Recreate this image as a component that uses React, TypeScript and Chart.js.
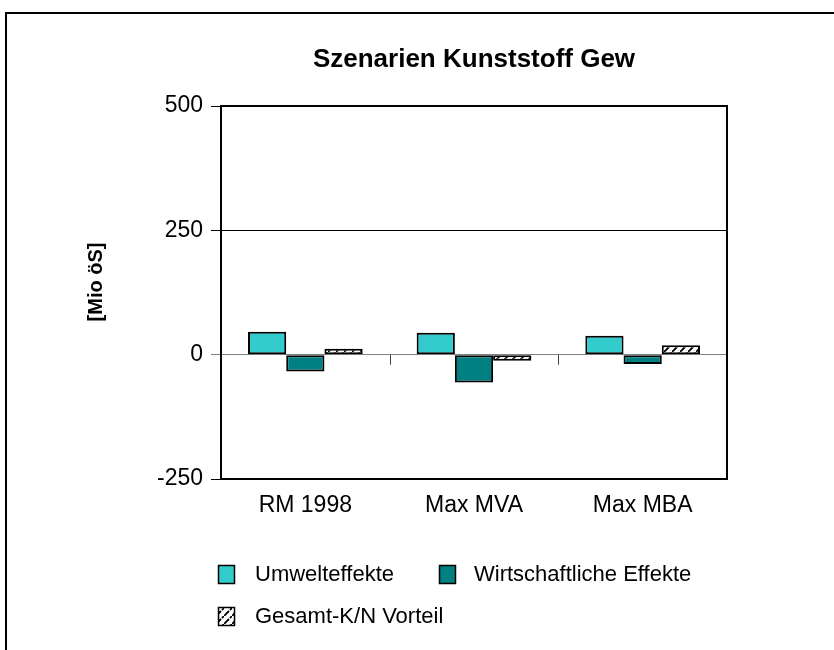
import React, { useEffect, useRef } from "react";
import { Chart, registerables } from "chart.js";

Chart.register(...registerables);

const chartTitle = "Szenarien Kunststoff Gew";
const yAxisTitle = "[Mio öS]";
const categories = ["RM 1998", "Max MVA", "Max MBA"];
const seriesNames = ["Umwelteffekte", "Wirtschaftliche Effekte", "Gesamt-K/N Vorteil"];
const umweltValues = [46, 44, 38];
const wirtschaftValues = [-34, -56, -19];
const gesamtValues = [12, -12, 19];
const yMin = -250;
const yMax = 500;
const yStep = 250;

const FONT = "'Liberation Sans', Arial, sans-serif";
const CYAN = "#33CCCC";
const TEAL = "#008080";

function makeHatch(): CanvasPattern | string {
  const c = document.createElement("canvas");
  c.width = 8;
  c.height = 8;
  const g = c.getContext("2d");
  if (!g) return "#ffffff";
  g.fillStyle = "#ffffff";
  g.fillRect(0, 0, 8, 8);
  g.strokeStyle = "#000000";
  g.lineWidth = 1.8;
  g.beginPath();
  g.moveTo(0, 8);
  g.lineTo(5, 3);
  g.moveTo(6, 2);
  g.lineTo(8, 0);
  g.stroke();
  const p = g.createPattern(c, "repeat");
  return p || "#ffffff";
}

export default function App() {
  const ref = useRef<HTMLCanvasElement | null>(null);

  useEffect(() => {
    document.body.style.margin = "0";
    const canvas = ref.current;
    if (!canvas) return;
    const hatch = makeHatch();

    const decor = {
      id: "decor",
      afterDraw(chart: any) {
        const ctx = chart.ctx as CanvasRenderingContext2D;
        const a = chart.chartArea;
        ctx.save();
        // outer frame
        ctx.strokeStyle = "#000";
        ctx.lineWidth = 2;
        ctx.beginPath();
        ctx.moveTo(6, 660);
        ctx.lineTo(6, 13);
        ctx.lineTo(840, 13);
        ctx.stroke();
        // plot border
        ctx.lineWidth = 2;
        ctx.strokeRect(a.left, a.top, a.right - a.left, a.bottom - a.top);
        // category ticks on zero line
        const y0 = chart.scales.y.getPixelForValue(0);
        ctx.strokeStyle = "#404040";
        ctx.lineWidth = 1;
        const n = categories.length;
        for (let i = 1; i < n; i++) {
          const x = Math.round(a.left + (i * (a.right - a.left)) / n) + 0.5;
          ctx.beginPath();
          ctx.moveTo(x, y0);
          ctx.lineTo(x, y0 + 10);
          ctx.stroke();
        }
        // title
        ctx.fillStyle = "#000";
        ctx.font = `bold 26px ${FONT}`;
        ctx.textAlign = "center";
        ctx.textBaseline = "middle";
        ctx.fillText(chartTitle, (a.left + a.right) / 2, 60);
        // y axis title
        ctx.save();
        ctx.translate(96, 282);
        ctx.rotate(-Math.PI / 2);
        ctx.font = `bold 20px ${FONT}`;
        ctx.fillText(yAxisTitle, 0, 0);
        ctx.restore();
        // legend
        const items = [
          { x: 218, y: 565, fill: CYAN as any, tx: 255 },
          { x: 439, y: 565, fill: TEAL as any, tx: 474 },
          { x: 218, y: 607, fill: hatch as any, tx: 255 },
        ];
        ctx.font = `22px ${FONT}`;
        ctx.textAlign = "left";
        ctx.textBaseline = "middle";
        items.forEach((it, i) => {
          ctx.fillStyle = it.fill;
          ctx.fillRect(it.x, it.y, 16, 18);
          ctx.strokeStyle = "#000";
          ctx.lineWidth = 1.5;
          ctx.strokeRect(it.x + 0.5, it.y + 0.5, 16, 18);
          ctx.fillStyle = "#000";
          ctx.fillText(seriesNames[i], it.tx, it.y + 10);
        });
        ctx.restore();
      },
    };

    const chart = new Chart(canvas, {
      type: "bar",
      data: {
        labels: categories,
        datasets: [
          { label: seriesNames[0], data: umweltValues, backgroundColor: CYAN },
          { label: seriesNames[1], data: wirtschaftValues, backgroundColor: TEAL },
          { label: seriesNames[2], data: gesamtValues, backgroundColor: hatch as any },
        ].map((d) => ({
          ...d,
          borderColor: "#000",
          borderWidth: 2,
          borderSkipped: false,
          barPercentage: 1,
          categoryPercentage: 0.68,
        })),
      },
      options: {
        responsive: false,
        animation: false,
        layout: { padding: { left: 0, right: 107, top: 106, bottom: 131 } },
        plugins: {
          legend: { display: false },
          title: { display: false },
          tooltip: { enabled: false },
        },
        scales: {
          x: {
            grid: { display: false },
            border: { display: false },
            ticks: { color: "#000", font: { family: FONT, size: 23 }, padding: 5 },
            afterFit: (s: any) => {
              s.height = 40;
            },
          },
          y: {
            min: yMin,
            max: yMax,
            ticks: {
              stepSize: yStep,
              color: "#000",
              font: { family: FONT, size: 23 },
              padding: 8,
            },
            grid: {
              color: (c: any) =>
                c.tick && c.tick.value === 250
                  ? "#000"
                  : c.tick && c.tick.value === 0
                  ? "#808080"
                  : "rgba(0,0,0,0)",
              tickColor: (c: any) => (c.tick && c.tick.value === 0 ? "#808080" : "#000"),
              tickLength: 10,
              lineWidth: 1,
            },
            border: { display: false },
            afterFit: (s: any) => {
              s.width = 221;
            },
          },
        },
      },
      plugins: [decor],
    });
    return () => chart.destroy();
  }, []);

  return (
    <div style={{ position: "absolute", left: 0, top: 0, width: 834, height: 650, background: "#fff" }}>
      <canvas ref={ref} width={834} height={650} style={{ display: "block" }} />
    </div>
  );
}
